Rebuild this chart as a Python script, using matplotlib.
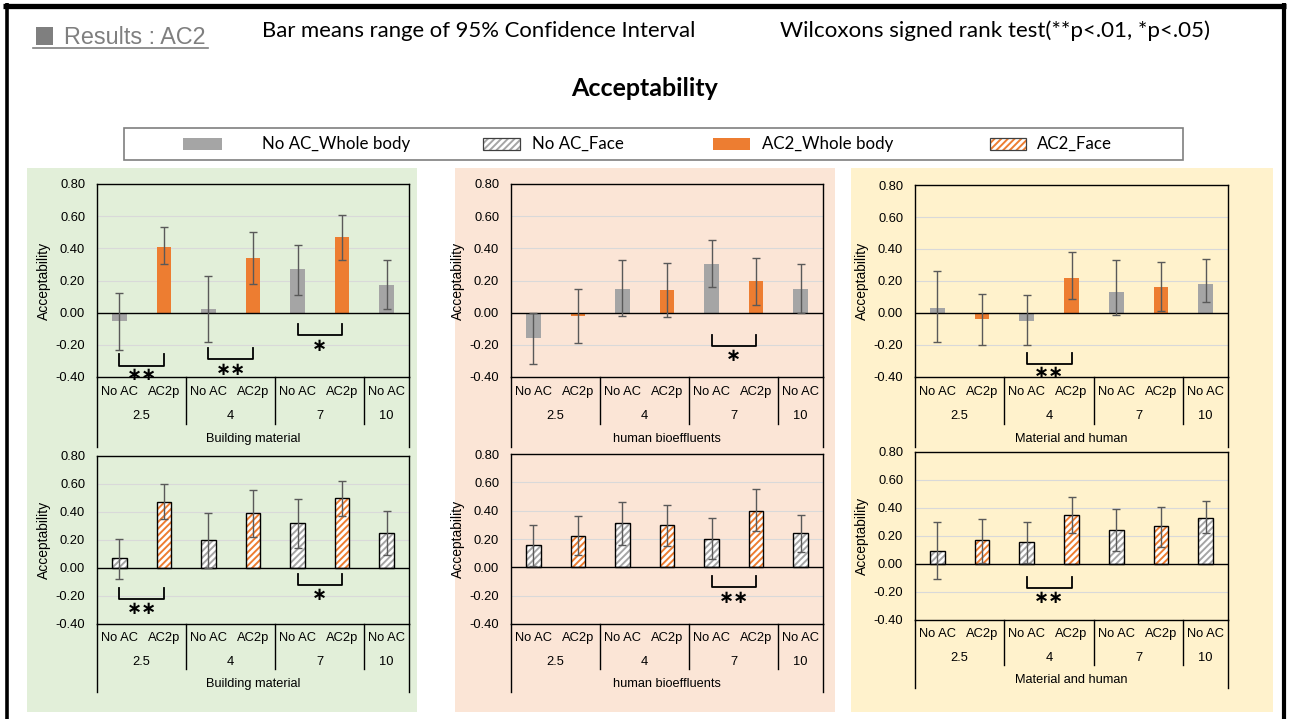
import matplotlib
matplotlib.use("Agg")
import matplotlib.pyplot as plt
import matplotlib.transforms as mtransforms
from matplotlib.patches import Rectangle
from matplotlib.lines import Line2D
import numpy as np

# ---------------------------------------------------------------- data
categories = ["No AC", "AC2p", "No AC", "AC2p", "No AC", "AC2p", "No AC"]
groups = ["2.5", "4", "7", "10"]
group_sizes = [2, 2, 2, 1]
yticks = [-0.40, -0.20, 0.00, 0.20, 0.40, 0.60, 0.80]
sources = ["Building material", "human bioeffluents", "Material and human"]

# whole body, mean and 95% CI
whole_material_mean = [-0.05, 0.41, 0.02, 0.34, 0.27, 0.47, 0.17]
whole_material_low = [-0.23, 0.30, -0.18, 0.18, 0.11, 0.33, 0.02]
whole_material_high = [0.12, 0.53, 0.23, 0.50, 0.42, 0.61, 0.33]

whole_human_mean = [-0.16, -0.02, 0.15, 0.14, 0.30, 0.20, 0.15]
whole_human_low = [-0.32, -0.19, -0.02, -0.03, 0.16, 0.05, 0.00]
whole_human_high = [0.00, 0.15, 0.33, 0.31, 0.45, 0.34, 0.30]

whole_mixed_mean = [0.03, -0.04, -0.05, 0.22, 0.13, 0.16, 0.18]
whole_mixed_low = [-0.18, -0.20, -0.20, 0.09, -0.01, 0.01, 0.07]
whole_mixed_high = [0.26, 0.12, 0.11, 0.38, 0.33, 0.32, 0.34]

# face, mean and 95% CI
face_material_mean = [0.07, 0.47, 0.20, 0.39, 0.32, 0.50, 0.25]
face_material_low = [-0.08, 0.35, 0.00, 0.22, 0.14, 0.37, 0.09]
face_material_high = [0.21, 0.60, 0.39, 0.56, 0.49, 0.62, 0.41]

face_human_mean = [0.16, 0.22, 0.31, 0.30, 0.20, 0.40, 0.24]
face_human_low = [0.01, 0.09, 0.16, 0.15, 0.06, 0.26, 0.11]
face_human_high = [0.30, 0.36, 0.46, 0.44, 0.35, 0.55, 0.37]

face_mixed_mean = [0.09, 0.17, 0.16, 0.35, 0.24, 0.27, 0.33]
face_mixed_low = [-0.11, 0.01, 0.01, 0.22, 0.09, 0.12, 0.22]
face_mixed_high = [0.30, 0.32, 0.30, 0.48, 0.39, 0.41, 0.45]

# significance markers: (left category, label, bracket top, bracket bottom, label y)
whole_material_sig = [(0, "**", -0.26, -0.33, -0.385), (2, "**", -0.22, -0.29, -0.355),
                      (4, "*", -0.07, -0.14, -0.21)]
whole_human_sig = [(4, "*", -0.14, -0.21, -0.27)]
whole_mixed_sig = [(2, "**", -0.25, -0.32, -0.375)]
face_material_sig = [(0, "**", -0.14, -0.22, -0.29), (4, "*", -0.045, -0.12, -0.195)]
face_human_sig = [(4, "**", -0.06, -0.14, -0.215)]
face_mixed_sig = [(2, "**", -0.09, -0.17, -0.24)]

legend_labels = ["No AC_Whole body", "No AC_Face", "AC2_Whole body", "AC2_Face"]

# ---------------------------------------------------------------- style
GREY = "#A5A5A5"
ORANGE = "#ED7D31"
BG = ["#E2EFD9", "#FBE5D6", "#FFF2CC"]
SANS = ["Liberation Sans", "DejaVu Sans"]
HEAD = ["Lato", "DejaVu Sans"]
HATCH = "/////"
plt.rcParams["font.family"] = SANS
plt.rcParams["hatch.linewidth"] = 1.4

W, H = 1292, 719
fig = plt.figure(figsize=(W / 100, H / 100), dpi=100)
fig.patch.set_facecolor("white")


def fx(px):
    return px / W


def fy(py):
    return 1 - py / H


def fig_line(xs, ys, **kw):
    fig.add_artist(Line2D([fx(v) for v in xs], [fy(v) for v in ys],
                          transform=fig.transFigure, **kw))


def fig_rect(x0, y0, x1, y1, **kw):
    fig.add_artist(Rectangle((fx(x0), fy(y1)), fx(x1) - fx(x0), fy(y0) - fy(y1),
                             transform=fig.transFigure, **kw))


# outer frame
fig_line([3, 1286], [5.5, 5.5], color="black", lw=3.8, solid_capstyle="butt")
fig_line([6.5, 6.5], [3, 719], color="black", lw=2.6, solid_capstyle="butt")
fig_line([1284, 1284], [3, 719], color="black", lw=3.0, solid_capstyle="butt")

# header
fig_rect(36, 27, 53, 45, facecolor="#7F7F7F", edgecolor="none")
fig.text(fx(64), fy(37), "Results : AC2", color="#7F7F7F", fontsize=16.8,
         family=SANS, ha="left", va="center")
fig_line([33, 208], [47.5, 47.5], color="#7F7F7F", lw=1.2)
fig.text(fx(262), fy(31), "Bar means range of 95% Confidence Interval", fontsize=15.9,
         family=HEAD, ha="left", va="center")
fig.text(fx(780), fy(31), "Wilcoxons signed rank test(**p<.01, *p<.05)", fontsize=16.1,
         family=HEAD, ha="left", va="center")
fig.text(fx(645), fy(88), "Acceptability", fontsize=18, fontweight="bold",
         family=HEAD, ha="center", va="center")

# legend
fig_rect(124, 128, 1183, 160, facecolor="none", edgecolor="#7F7F7F", lw=1.2)
legend_patch_x = [(183, 222), (483, 520), (713, 750), (990, 1026)]
legend_text_x = [262, 532, 762, 1037]
legend_colors = [GREY, GREY, ORANGE, ORANGE]
legend_hatched = [False, True, False, True]
for (a, b), tx, lab, col, hat in zip(legend_patch_x, legend_text_x, legend_labels,
                                      legend_colors, legend_hatched):
    if hat:
        fig_rect(a, 138, b, 150, facecolor="white", edgecolor=col, hatch=HATCH, lw=0)
        fig_rect(a, 138, b, 150, facecolor="none", edgecolor="#404040", lw=0.9)
    else:
        fig_rect(a, 138, b, 150, facecolor=col, edgecolor="none")
    fig.text(fx(tx), fy(144), lab, fontsize=12.2, family=HEAD, ha="left", va="center")

# panel backgrounds
for (a, b), col in zip([(27, 417), (455, 835), (851, 1273)], BG):
    fig_rect(a, 168, b, 712, facecolor=col, edgecolor="none", zorder=0)


def draw_panel(box, mean, low, high, face, source, marks, offs):
    x0, y0, x1, y1 = box
    ax = fig.add_axes([fx(x0), fy(y1), fx(x1) - fx(x0), fy(y0) - fy(y1)])
    ax.set_facecolor("none")
    n = len(categories)
    xs = np.arange(n)
    ax.set_xlim(-0.5, n - 0.5)
    ax.set_ylim(yticks[0], yticks[-1])
    ax.set_yticks(yticks)
    ax.set_yticklabels([f"{v:.2f}" for v in yticks])
    ax.set_xticks([])
    ax.tick_params(axis="y", length=0, pad=8.5, labelsize=9.3)
    for s in ax.spines.values():
        s.set_color("black")
        s.set_linewidth(1.0)
    for v in yticks[1:-1]:
        if v != 0:
            ax.axhline(v, color="#D9D9D9", lw=0.8, zorder=0)
    ax.axhline(0, color="black", lw=1.0, zorder=3)

    colors = [GREY if c == "No AC" else ORANGE for c in categories]
    if face:
        ax.bar(xs, mean, width=0.33, color="white", edgecolor=colors, hatch=HATCH,
               linewidth=0, zorder=2)
        ax.bar(xs, mean, width=0.33, fill=False, edgecolor="black", linewidth=1.0, zorder=2.5)
    else:
        ax.bar(xs, mean, width=0.33, color=colors, linewidth=0, zorder=2)

    m = np.array(mean)
    yerr = [m - np.array(low), np.array(high) - m]
    ax.errorbar(xs, m, yerr=yerr, fmt="none", ecolor="#595959", elinewidth=1.0,
                capsize=3, capthick=1.0, zorder=4)

    for left, lab, ytop, ybot, ytxt in marks:
        ax.plot([left, left, left + 1, left + 1], [ytop, ybot, ybot, ytop],
                color="black", lw=1.3, clip_on=False, zorder=5)
        ax.text(left + 0.5, ytxt, "\u2217" * len(lab), ha="center", va="center",
                fontsize=13, fontweight="bold", family="DejaVu Sans", clip_on=False, zorder=6)

    # multi-level category axis
    tr = mtransforms.blended_transform_factory(ax.transData, fig.transFigure)
    r1, r2, sep, ttl, end = offs
    for i, c in enumerate(categories):
        ax.text(i, fy(y1 + r1), c, transform=tr, ha="center", va="center", fontsize=9.3)
    edges = np.concatenate([[0], np.cumsum(group_sizes)]) - 0.5
    for g, a, b in zip(groups, edges[:-1], edges[1:]):
        ax.text((a + b) / 2, fy(y1 + r2), g, transform=tr, ha="center", va="center",
                fontsize=9.3)
    for e in edges[1:-1]:
        ax.plot([e, e], [fy(y1), fy(y1 + sep)], transform=tr, color="black", lw=1.0,
                clip_on=False)
    for e in (edges[0], edges[-1]):
        ax.plot([e, e], [fy(y1), fy(y1 + end)], transform=tr, color="black", lw=1.0,
                clip_on=False)
    ax.text((edges[0] + edges[-1]) / 2, fy(y1 + ttl), source, transform=tr,
            ha="center", va="center", fontsize=9.2)

    fig.text(fx(x0 - 53), fy((y0 + y1) / 2), "Acceptability", rotation=90,
             ha="center", va="center", fontsize=10)


top_offs = (15, 39, 47, 62, 70)
bot_offs = (14, 38, 45, 60, 68)
col_x = [(97, 409), (511, 823), (915, 1228)]

draw_panel((col_x[0][0], 184, col_x[0][1], 377),
           whole_material_mean, whole_material_low, whole_material_high,
           False, sources[0], whole_material_sig, top_offs)
draw_panel((col_x[1][0], 184, col_x[1][1], 377),
           whole_human_mean, whole_human_low, whole_human_high,
           False, sources[1], whole_human_sig, top_offs)
draw_panel((col_x[2][0], 185, col_x[2][1], 377),
           whole_mixed_mean, whole_mixed_low, whole_mixed_high,
           False, sources[2], whole_mixed_sig, top_offs)
draw_panel((col_x[0][0], 456, col_x[0][1], 624),
           face_material_mean, face_material_low, face_material_high,
           True, sources[0], face_material_sig, bot_offs)
draw_panel((col_x[1][0], 454, col_x[1][1], 624),
           face_human_mean, face_human_low, face_human_high,
           True, sources[1], face_human_sig, bot_offs)
draw_panel((col_x[2][0], 452, col_x[2][1], 620),
           face_mixed_mean, face_mixed_low, face_mixed_high,
           True, sources[2], face_mixed_sig, bot_offs)

fig.savefig("out.png", dpi=100, facecolor="white")
